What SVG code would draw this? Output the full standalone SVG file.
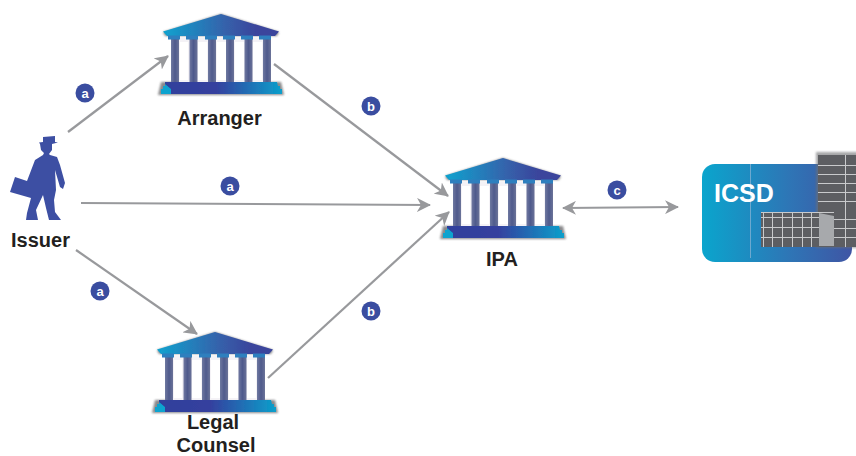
<svg xmlns="http://www.w3.org/2000/svg" width="856" height="456" viewBox="0 0 856 456">
<style>
.lbl{font-family:"Liberation Sans",Arial,sans-serif;font-weight:700;font-size:20px;fill:#231f20;text-anchor:middle}
.conn{fill:none;stroke:#98999c;stroke-width:2.2}
.bt{font-family:"Liberation Sans",Arial,sans-serif;font-weight:700;font-size:13px;fill:#fff;text-anchor:middle}
.bc{fill:#3a4da0}
.col{fill:url(#colG)}
.cap{fill:#2f7fbe}
.wl{stroke:#c9cacc;stroke-width:1;fill:none}
</style>
<defs>
<marker id="ah" markerUnits="userSpaceOnUse" markerWidth="16" markerHeight="14" refX="13" refY="7" orient="auto-start-reverse" viewBox="0 0 16 14">
<path d="M0 0L14 7L0 14L4 7Z" fill="#98999c"/>
</marker>
<linearGradient id="roofG" x1="0" x2="1" y1="0" y2="0"><stop offset="0" stop-color="#0fa3cf"/><stop offset=".55" stop-color="#3660aa"/><stop offset=".8" stop-color="#3a459c"/><stop offset="1" stop-color="#3a459c"/></linearGradient>
<linearGradient id="baseG" x1="0" x2="1" y1="0" y2="0"><stop offset="0" stop-color="#2f3f9c"/><stop offset=".45" stop-color="#353f9e"/><stop offset="1" stop-color="#0c9fcb"/></linearGradient>
<linearGradient id="colG" x1="0" x2="1" y1="0" y2="0"><stop offset="0" stop-color="#6f78a0"/><stop offset=".5" stop-color="#4f5a8c"/><stop offset="1" stop-color="#6a7298"/></linearGradient>
<linearGradient id="cardG" x1="0" x2="1" y1="0" y2="0"><stop offset="0" stop-color="#0aa5cd"/><stop offset=".6" stop-color="#2f74b5"/><stop offset="1" stop-color="#3f55a4"/></linearGradient>
<filter id="soft" x="-10%" y="-10%" width="120%" height="120%"><feGaussianBlur stdDeviation="1.2"/></filter>
<filter id="sl" x="-5%" y="-5%" width="110%" height="110%"><feGaussianBlur stdDeviation=".4"/></filter>
<filter id="cb" x="-5%" y="-5%" width="110%" height="110%"><feGaussianBlur stdDeviation=".6"/></filter>
<g id="bank">
<path d="M0 0L58 18L56 22H-56L-58 18Z M-60 68H60L63 81H-63Z" fill="#58595b" opacity=".7" filter="url(#soft)"/>
<g filter="url(#cb)">
<rect x="-50" y="24" width="100" height="45" fill="#f4f2f6"/>
<rect x="-41" y="28" width="8" height="38" fill="#fff"/><rect x="-23" y="28" width="9" height="38" fill="#fff"/><rect x="-4" y="28" width="9" height="38" fill="#fff"/><rect x="14" y="28" width="9" height="38" fill="#fff"/><rect x="32" y="28" width="9" height="38" fill="#fff"/>
<rect class="col" x="-50" y="25" width="8" height="43"/><rect class="col" x="-31.500" y="25" width="8" height="43"/><rect class="col" x="-13" y="25" width="8" height="43"/><rect class="col" x="5" y="25" width="8" height="43"/><rect class="col" x="23.500" y="25" width="8" height="43"/><rect class="col" x="42" y="25" width="8" height="43"/>
</g>
<g filter="url(#sl)">
<path d="M-58 17.500L0 0L58 17.500L54 22H-54Z" fill="url(#roofG)"/>
<rect class="cap" x="-53" y="21.500" width="12" height="4"/><rect class="cap" x="-35" y="21.500" width="12" height="4"/><rect class="cap" x="-16" y="21.500" width="12" height="4"/><rect class="cap" x="2" y="21.500" width="12" height="4"/><rect class="cap" x="20" y="21.500" width="12" height="4"/><rect class="cap" x="38" y="21.500" width="12" height="4"/>
<path d="M-56 68H56L57 72H59L59 75H61L61 80H-60V75H-58V72H-56Z" fill="url(#baseG)"/>
<path d="M-60 80V75H-58V72H-56V70L-50 75V80Z" fill="#0fa3cf"/>
</g>
</g>
</defs>

<g id="connectors">
<line class="conn" x1="68" y1="132" x2="168" y2="56" marker-end="url(#ah)"/>
<line class="conn" x1="274" y1="64" x2="448" y2="196" marker-end="url(#ah)"/>
<line class="conn" x1="81" y1="203" x2="430" y2="205" marker-end="url(#ah)"/>
<line class="conn" x1="76" y1="250" x2="197" y2="334" marker-end="url(#ah)"/>
<line class="conn" x1="268" y1="378" x2="449" y2="212" marker-end="url(#ah)"/>
<line class="conn" x1="563" y1="208" x2="678" y2="207" marker-start="url(#ah)" marker-end="url(#ah)"/>
</g>

<g id="issuer">
<path fill="#3d4fa3" d="M43 137L55 136L55 142L58 142.500L52 144L52 150L49 154L50 155L57 157L60 165L65 183L63 189L60 187L55 170L56 190L54 200L55 212L61 220H49L46 208L43 195L36 210L38 220H26L27 213L31 198L10 192L15 177L27 181L35 160L43 155L44 153L41 150L40 144L39 142.500L43 142Z"/>
<text class="lbl" x="40.500" y="247">Issuer</text>
</g>
<g id="arranger">
<use href="#bank" x="221" y="14"/>
<text class="lbl" x="219.500" y="125">Arranger</text>
</g>
<g id="ipa">
<use href="#bank" x="503" y="158"/>
<text class="lbl" x="502" y="266">IPA</text>
</g>
<g id="legal-counsel">
<use href="#bank" x="215" y="332"/>
<text class="lbl" x="213" y="429.200">Legal</text>
<text class="lbl" x="216" y="451.700">Counsel</text>
</g>
<g id="icsd">
<rect x="702" y="164" width="150" height="98" rx="13" fill="url(#cardG)"/>
<line x1="750.500" y1="164" x2="750.500" y2="258" stroke="#8fb5d6" stroke-width=".7"/>
<text x="714" y="202" font-family="'Liberation Sans',Arial,sans-serif" font-weight="700" font-size="25" fill="#fff">ICSD</text>
<rect x="816" y="152" width="44" height="96" fill="#6d6e71" opacity=".6" filter="url(#soft)"/>
<rect x="818" y="155" width="38" height="92" fill="#5d5e62"/>
<path class="wl" d="M818 165.500H856M818 174.500H856M818 183.500H856M818 192.500H856M818 201.500H856M818 219.500H856M818 228.500H856M818 237.500H856M845.500 155V247"/>
<rect x="761" y="212" width="73" height="35" fill="#5d5e62"/>
<path class="wl" d="M761 212.500H834M761 217.500H819M761 227.500H819M761 237.500H819M763.500 212V247M772.500 212V247M782.500 212V247M792.500 212V247M802.500 212V247M811.500 212V247"/>
<path d="M819 213L834 216V246H819Z" fill="#a7a9ac"/>
</g>

<g id="badges">
<circle class="bc" cx="85" cy="93" r="9.500"/><text class="bt" x="85" y="97.500">a</text>
<circle class="bc" cx="371" cy="106" r="9.500"/><text class="bt" x="371" y="110.500">b</text>
<circle class="bc" cx="230" cy="186" r="9.500"/><text class="bt" x="230" y="190.500">a</text>
<circle class="bc" cx="100" cy="291" r="9.500"/><text class="bt" x="100" y="295.500">a</text>
<circle class="bc" cx="371" cy="311" r="9.500"/><text class="bt" x="371" y="315.500">b</text>
<circle class="bc" cx="617" cy="190" r="9.500"/><text class="bt" x="617" y="194.500">c</text>
</g>
</svg>
